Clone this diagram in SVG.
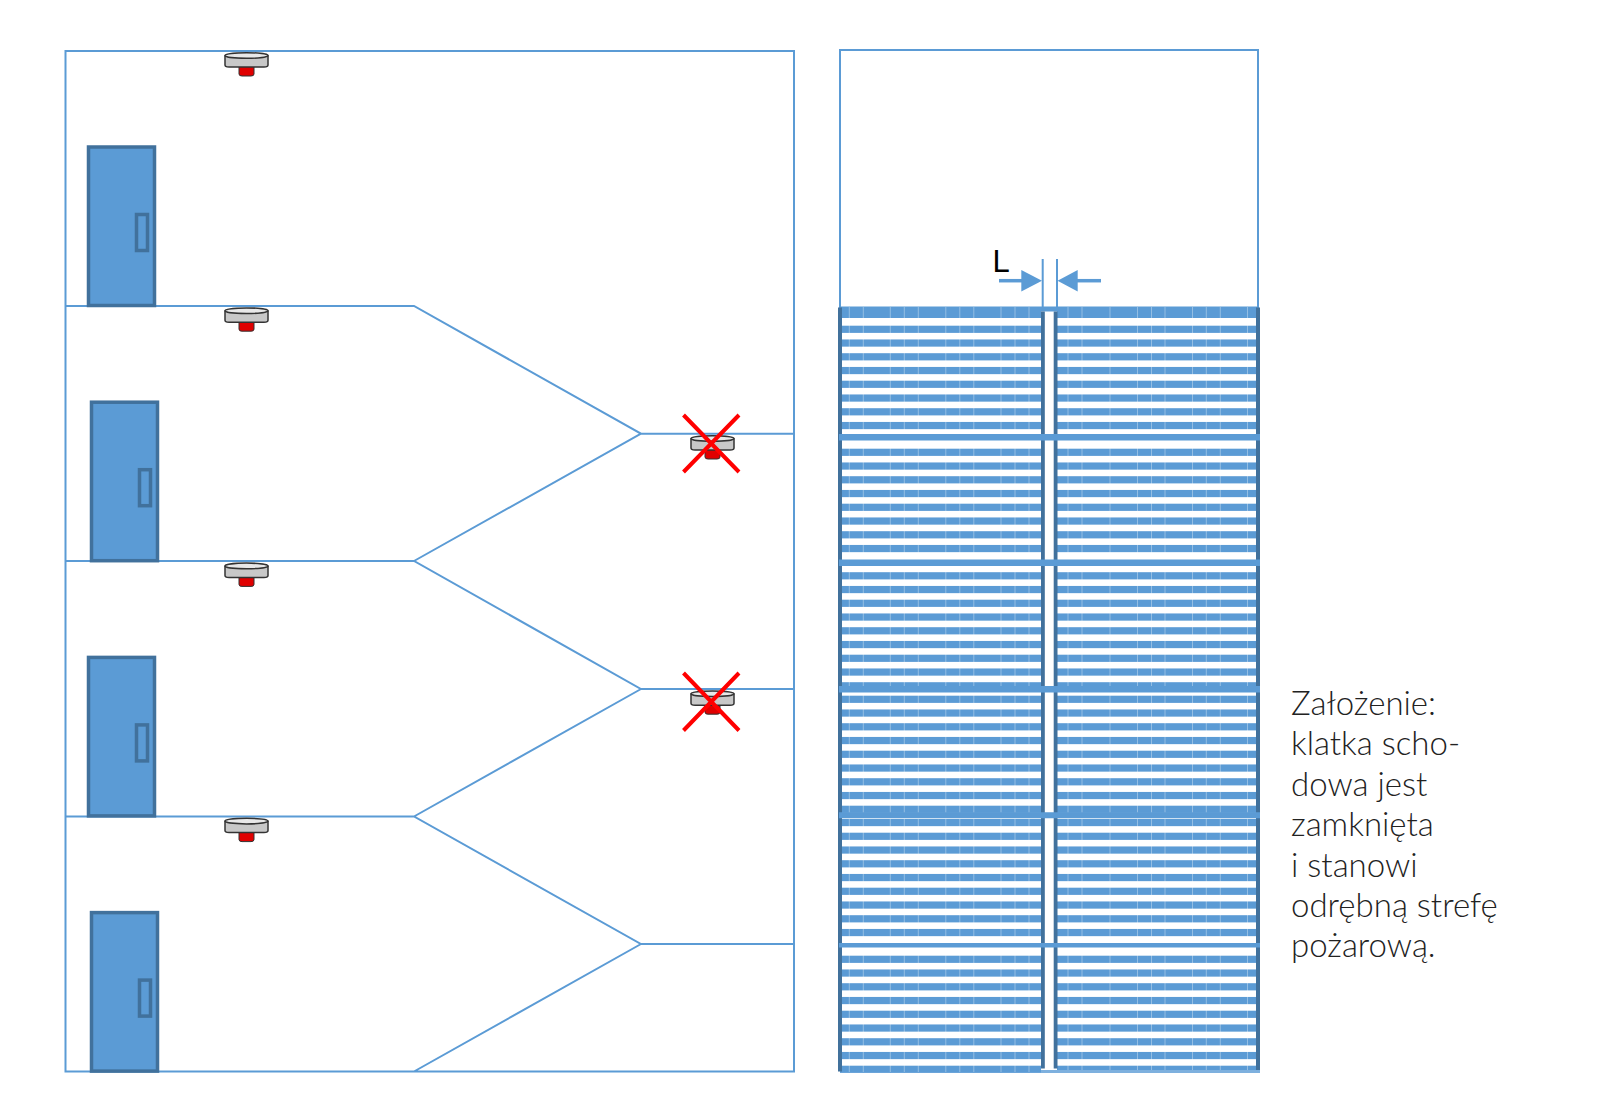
<svg xmlns="http://www.w3.org/2000/svg" width="1600" height="1104" viewBox="0 0 1600 1104">
<style>
.ln{fill:none;stroke:#5b9bd5;stroke-width:2}
.door{fill:#5b9bd5;stroke:#41719c;stroke-width:3.5}
.x{stroke:#ff0000;stroke-width:4;fill:none}
.t{font-family:Lato,"Liberation Sans",sans-serif;font-weight:300;font-size:33px;fill:#222}
.band{fill:#5b9bd5}
.dark{fill:#41719c}
.tick{stroke:#fff;stroke-opacity:.35;stroke-width:1;fill:none}
</style>
<defs>
<g id="sensor">
<path d="M14 14h15v8q0 2-3 2h-9q-3 0-3-2z" fill="#e00000" stroke="#333" stroke-width="1"/>
<path d="M0 4v9q0 2 4 2h35q4 0 4-2v-9z" fill="#c8c8c8" stroke="#333" stroke-width="1.500"/>
<ellipse cx="21.500" cy="3.500" rx="21.500" ry="2.800" fill="#e8e8e8" stroke="#333" stroke-width="1.500"/>
</g>
<g id="door">
<rect x="0" y="0" width="66" height="158.500" class="door"/>
<rect x="48" y="67.500" width="11" height="36" fill="none" stroke="#41719c" stroke-width="3.500"/>
</g>
<g id="row">
<rect class="band" x="840" y="-0.300" width="201" height="7.200"/><rect class="band" x="1057" y="-0.300" width="201" height="7.200"/>
</g>
<g id="rows">
<use href="#row" y="0"/><use href="#row" y="13.750"/><use href="#row" y="27.500"/><use href="#row" y="41.250"/>
<use href="#row" y="55"/><use href="#row" y="68.750"/><use href="#row" y="82.500"/><use href="#row" y="96.250"/>
</g>
</defs>
<g id="connectors">
<path class="ln" d="M65.500 51H794V1071.500H65.500ZM65.500 306H414L641 433.700H794M65.500 561H414L641 689H794M65.500 816.500H414L641 944H794M414 561L641 433.700M414 816.500L641 689M414 1071.500L641 944"/>
<path class="ln" d="M840 309V50H1258V309M1042.700 259V309M1057 259V309"/>
</g>
<g id="door1"><use href="#door" x="88.500" y="147"/></g>
<g id="door2"><use href="#door" x="91.500" y="402.200"/></g>
<g id="door3"><use href="#door" x="88.500" y="657.400"/></g>
<g id="door4"><use href="#door" x="91.500" y="912.600"/></g>
<g id="sensor1"><use href="#sensor" x="225" y="52"/></g>
<g id="sensor2"><use href="#sensor" x="225" y="307.200"/></g>
<g id="sensor3"><use href="#sensor" x="225" y="562.400"/></g>
<g id="sensor4"><use href="#sensor" x="225" y="817.600"/></g>
<g id="sensor5"><use href="#sensor" x="691" y="435"/><path class="x" d="M683.500 415L739 472M739 415L683.500 472"/></g>
<g id="sensor6"><use href="#sensor" x="691" y="690.200"/><path class="x" d="M683.500 673L739 730.500M739 673L683.500 730.500"/></g>
<g id="stairs">
<rect class="band" x="840" y="306.500" width="418" height="5"/>
<rect class="band" x="840" y="311" width="201" height="7"/><rect class="band" x="1057" y="311" width="201" height="7"/>
<use href="#rows" y="326"/>
<use href="#rows" y="449"/>
<use href="#rows" y="572.500"/><use href="#row" y="682.500"/>
<use href="#rows" y="696"/><use href="#row" y="806"/>
<use href="#rows" y="819.250"/><use href="#row" y="929.250"/>
<use href="#rows" y="956"/><use href="#row" y="1066"/>
<path class="tick" d="M849.300 307V1072M863.300 307V1072M890.300 307V1072M904.300 307V1072M918.300 307V1072M945.800 307V1072M959.800 307V1072M973.800 307V1072M1001 307V1072M1015 307V1072M1029 307V1072M1068 307V1072M1082 307V1072M1110 307V1072M1137.500 307V1072M1151.500 307V1072M1165 307V1072M1192.500 307V1072M1206.300 307V1072M1220.300 307V1072M1247.500 307V1072"/>
<rect class="dark" x="838" y="307.500" width="4" height="764"/>
<rect class="dark" x="1256" y="307.500" width="4" height="764"/>
<rect class="dark" x="1041" y="311.500" width="3.800" height="757"/>
<rect class="dark" x="1053.700" y="311.500" width="3.800" height="757"/>
<path class="band" d="M839 434h421v6.500h-421zM839 559.500h421v6.500h-421zM839 686h421v6.500h-421zM839 812.300h421v6h-421zM839 943h421v4.500h-421z"/>
<rect x="1041" y="1070" width="219" height="3" fill="#7eb0de"/>
</g>
<g id="dimension">
<path d="M999 280.700H1022" stroke="#5b9bd5" stroke-width="3.500" fill="none"/>
<path d="M1021.300 270V291.500L1042 280.700Z" fill="#5b9bd5"/>
<path d="M1101 280.700H1077" stroke="#5b9bd5" stroke-width="3.500" fill="none"/>
<path d="M1077.700 270V291.500L1057.500 280.700Z" fill="#5b9bd5"/>
<text x="992.500" y="272" font-family="Liberation Sans,sans-serif" font-size="31px" fill="#000">L</text>
</g>
<g id="note" class="t">
<text x="1291" y="715">Założenie:</text>
<text x="1291" y="755.400">klatka scho-</text>
<text x="1291" y="795.900">dowa jest</text>
<text x="1291" y="836.300">zamknięta</text>
<text x="1291" y="876.800">i stanowi</text>
<text x="1291" y="917.200">odrębną strefę</text>
<text x="1291" y="957.200">pożarową.</text>
</g>
</svg>
